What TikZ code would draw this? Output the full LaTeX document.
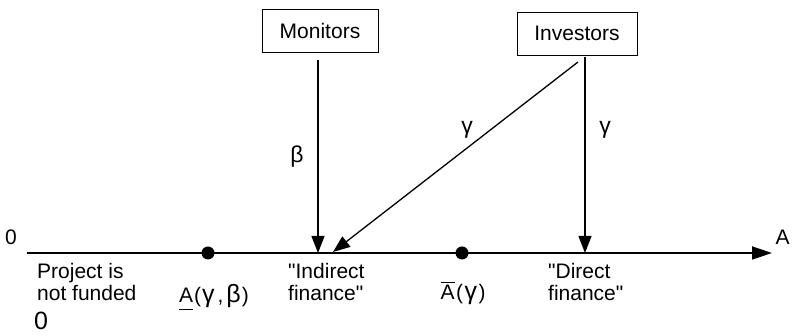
\documentclass[tikz,border=0pt]{standalone}
\usepackage{fontspec}
\setmainfont{Liberation Sans}
\usetikzlibrary{arrows.meta}
\newcommand{\myul}[1]{\setbox0\hbox{#1}\rlap{\rule[-7pt]{\wd0}{1pt}}\box0}
\newcommand{\myol}[1]{\setbox0\hbox{#1}\rlap{\rule[\dimexpr\ht0+2.5pt\relax]{\wd0}{1pt}}\box0}
\newcommand{\gk}[1]{{\fontsize{25}{25}\selectfont #1}}
\begin{document}
\begin{tikzpicture}[x=1pt,y=1pt,
  lbl/.style={inner sep=0pt, font=\fontsize{21}{22}\selectfont},
  greek/.style={inner sep=0pt, font=\fontsize{23}{23}\selectfont},
  boxnode/.style={draw, line width=0.8pt, minimum height=43pt, font=\fontsize{21}{22}\selectfont},
  conn/.style={line width=1.3pt, -{Triangle[length=17pt,width=13pt]}},
  axis/.style={line width=1.8pt, -{Triangle[length=20pt,width=13pt]}},
  dot/.style={circle, fill, inner sep=0pt, minimum size=13pt}]
\useasboundingbox (0,0) rectangle (793,336);
% boxes
\node[boxnode, minimum width=116pt] (mon) at (320,305) {Monitors};
\node[boxnode, minimum width=120pt] (inv) at (577,302.5) {Investors};
% coordinates
\coordinate (ax0) at (27,83);
\coordinate (ax1) at (772,83);
\coordinate (monS) at (318,276);
\coordinate (ind) at (318,83);
\coordinate (invV) at (585,279);
\coordinate (dir) at (585,83);
\coordinate (invD) at (578,274);
\coordinate (indD) at (333,84);
% connectors
\draw[axis] (ax0) -- (ax1);
\draw[conn] (monS) -- (ind);
\draw[conn] (invV) -- (dir);
\draw[conn] (invD) -- (indD);
% dots
\node[dot] (lo) at (208,83) {};
\node[dot] (hi) at (462,83) {};
% labels
\node[lbl, anchor=base] (zeroA) at (11,91) {0};
\node[lbl, anchor=base] (axA) at (782.5,91) {A};
\node[greek, anchor=center] (beta) at (297,179) {β};
\node[greek, anchor=center] (gam1) at (467,206) {γ};
\node[greek, anchor=center] (gam2) at (605,206) {γ};
\node[lbl, anchor=north west, align=left] (nf) at (37,72.5) {Project is\\not funded};
\node[lbl, anchor=base] (alow) at (214,33) {\myul{A}\kern1pt(\kern1pt\gk{γ}\kern3pt,\kern3pt\gk{β}\kern1pt)};
\node[lbl, anchor=north west, align=left] (indf) at (288,72.5) {\textquotedbl Indirect\\finance\textquotedbl};
\node[lbl, anchor=base] (ahigh) at (463,36) {\myol{A}\kern1.5pt(\kern1.5pt\gk{γ}\kern1.5pt)};
\node[lbl, anchor=north west, align=left] (dirf) at (548,72.5) {\textquotedbl Direct\\finance\textquotedbl};
\node[inner sep=0pt, font=\fontsize{25}{25}\selectfont, anchor=base] (zeroB) at (41,6) {0};
\end{tikzpicture}
\end{document}
